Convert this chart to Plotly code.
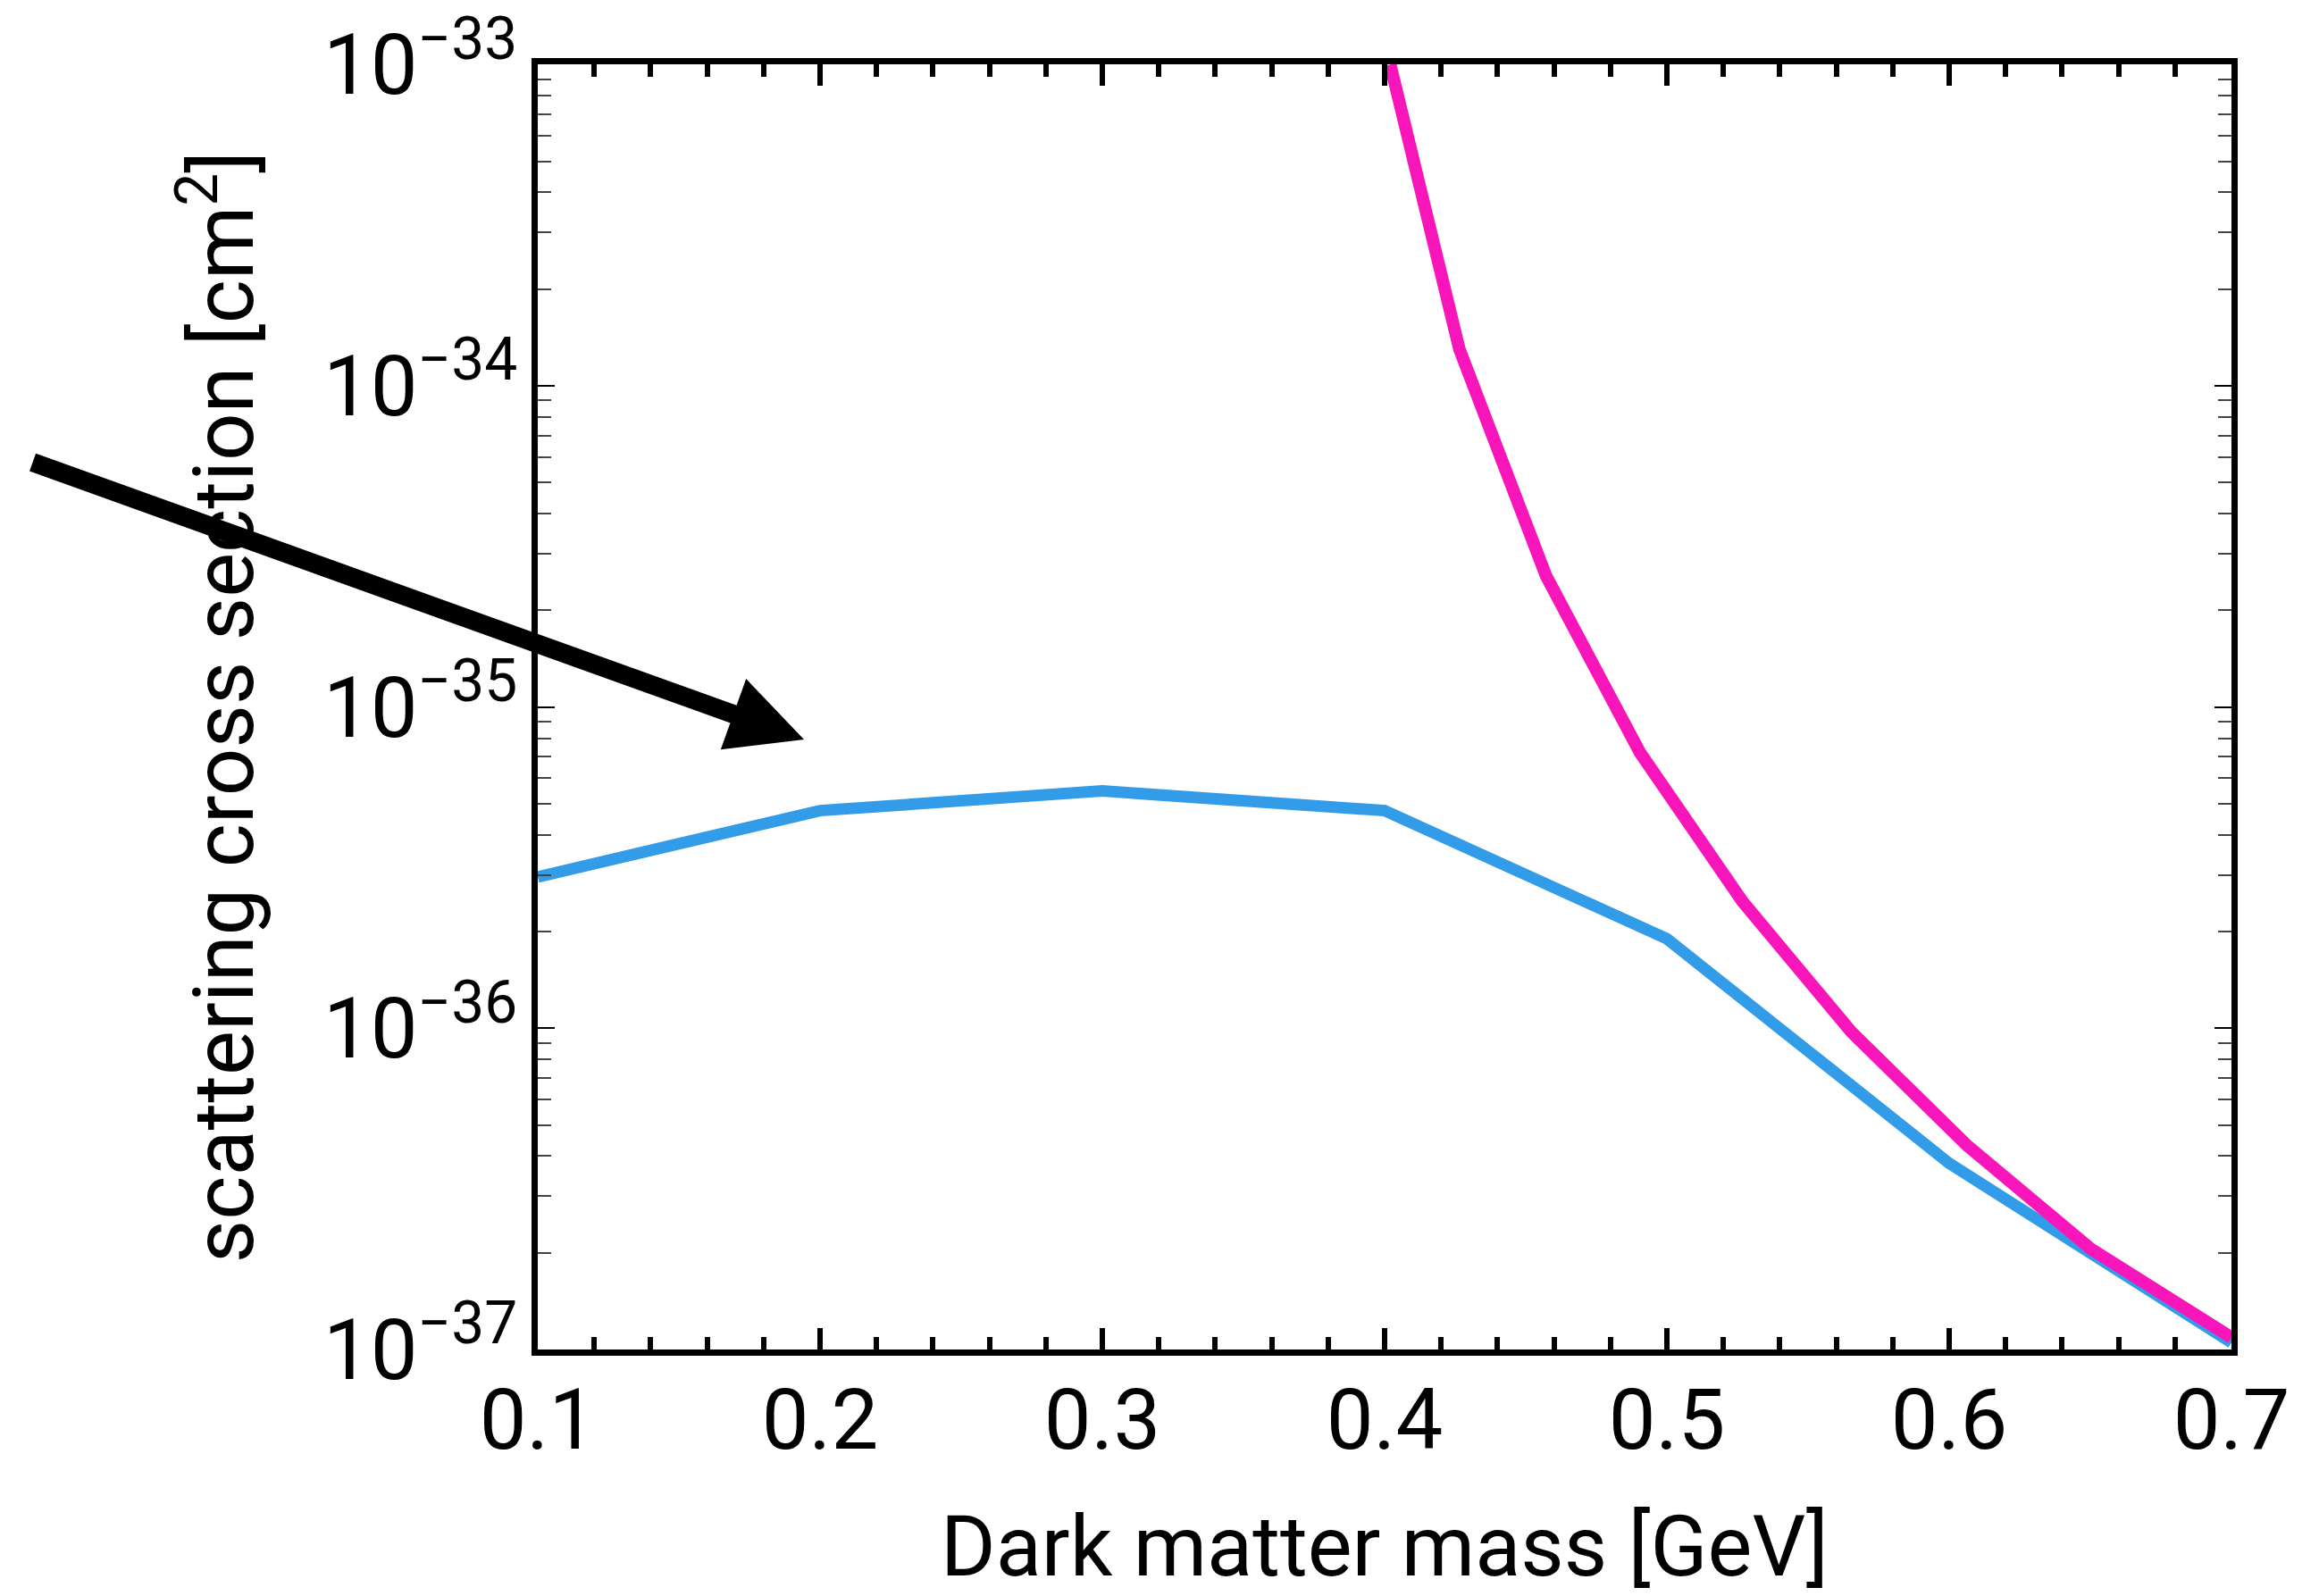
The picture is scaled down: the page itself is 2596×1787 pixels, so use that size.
import plotly.graph_objects as go

# Data
mass_blue = [0.1, 0.2, 0.3, 0.4, 0.5, 0.6, 0.7]
sigma_blue = [2.96e-36, 4.76e-36, 5.48e-36, 4.76e-36, 1.90e-36, 3.80e-37, 1.05e-37]

mass_pink = [0.402, 0.4265, 0.4572, 0.4905, 0.5268, 0.5653, 0.6062, 0.6501, 0.7]
sigma_pink = [1.0e-33, 1.30e-34, 2.56e-35, 7.21e-36, 2.48e-36, 9.75e-37, 4.33e-37, 2.06e-37, 1.09e-37]

y_tickvals = [1e-37, 1e-36, 1e-35, 1e-34, 1e-33]
y_ticktext = ["10<sup>\u221237</sup>", "10<sup>\u221236</sup>", "10<sup>\u221235</sup>",
              "10<sup>\u221234</sup>", "10<sup>\u221233</sup>"]

x_title = "Dark matter mass [GeV]"
y_title = "scattering cross section [cm<sup>2</sup>]"

FONT = "Roboto"

fig = go.Figure()
fig.add_trace(go.Scatter(x=mass_blue, y=sigma_blue, mode="lines",
                         line=dict(color="#329CE9", width=13), showlegend=False))
fig.add_trace(go.Scatter(x=mass_pink, y=sigma_pink, mode="lines",
                         line=dict(color="#F815B9", width=14), showlegend=False))

fig.update_layout(
    width=2596, height=1787,
    margin=dict(l=602, r=98, t=72, b=276, autoexpand=False),
    plot_bgcolor="white", paper_bgcolor="white",
    font=dict(family=FONT, size=94, color="black"),
    showlegend=False,
)

fig.update_xaxes(
    automargin=False,
    range=[0.1, 0.7], tick0=0.1, dtick=0.1, tickformat=".1f",
    ticks="inside", ticklen=24, tickwidth=6, tickcolor="black",
    showline=True, linewidth=7, linecolor="black", mirror="allticks",
    showgrid=False, zeroline=False,
    minor=dict(ticks="inside", dtick=0.02, tick0=0.1, ticklen=14, tickwidth=6,
               tickcolor="black", showgrid=False),
    tickfont=dict(family=FONT, size=94, color="black"),
    ticklabelstandoff=-9,
    title=dict(text=x_title, font=dict(family=FONT, size=94, color="black"), standoff=96),
)

fig.update_yaxes(
    automargin=False,
    type="log", range=[-37, -32.999], tickvals=y_tickvals, ticktext=y_ticktext,
    ticks="inside", ticklen=19, tickwidth=2, tickcolor="black",
    showline=True, linewidth=7, linecolor="black", mirror="allticks",
    showgrid=False, zeroline=False,
    minor=dict(ticks="inside", dtick="D1", ticklen=15, tickwidth=2,
               tickcolor="#444444", showgrid=False),
    tickfont=dict(family=FONT, size=94, color="black"),
    ticklabelstandoff=-3,
    title=dict(text=y_title, font=dict(family=FONT, size=94, color="black"), standoff=50),
)

# Black arrow pointing at the blue curve
fig.add_annotation(
    x=0.1572, y=0.4746, xref="paper", yref="paper",
    ax=-865, ay=-311, axref="pixel", ayref="pixel",
    text="", showarrow=True, arrowhead=2, arrowsize=0.8,
    arrowwidth=21, arrowcolor="black",
)

fig.write_html("out.html")
